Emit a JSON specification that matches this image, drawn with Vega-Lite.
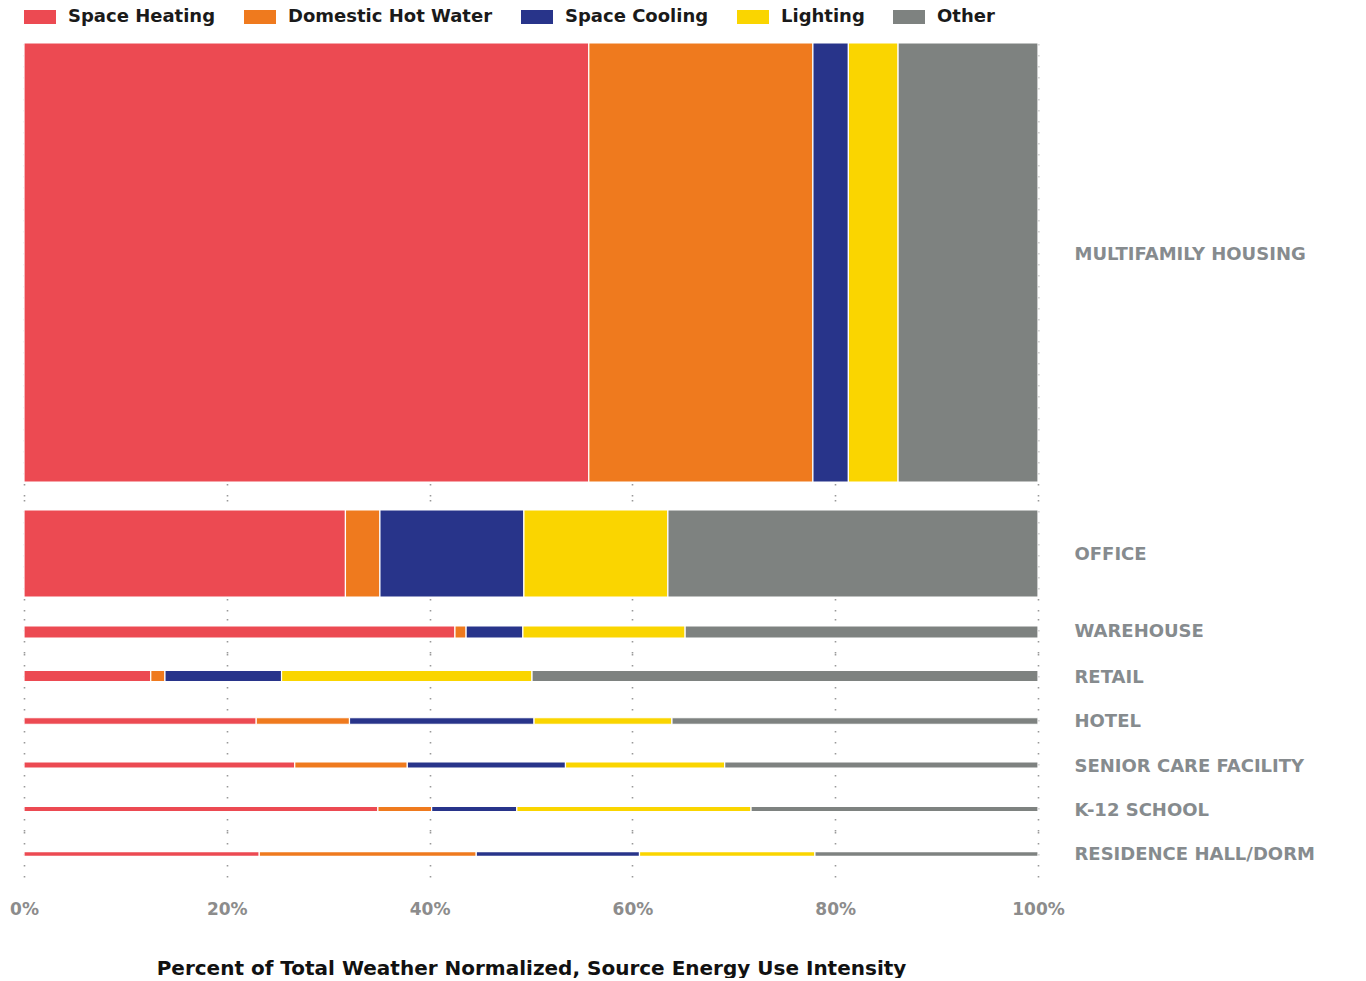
{
  "$schema": "https://vega.github.io/schema/vega-lite/v6.json",
  "padding": {"left": 9, "top": 1, "right": 0, "bottom": 0},
  "spacing": 0,
  "data": {"values": [
    {"building": "MULTIFAMILY HOUSING", "category": "Space Heating", "pct": 55.7, "weight": 439},
    {"building": "MULTIFAMILY HOUSING", "category": "Domestic Hot Water", "pct": 22.1, "weight": 439},
    {"building": "MULTIFAMILY HOUSING", "category": "Space Cooling", "pct": 3.5, "weight": 439},
    {"building": "MULTIFAMILY HOUSING", "category": "Lighting", "pct": 4.9, "weight": 439},
    {"building": "MULTIFAMILY HOUSING", "category": "Other", "pct": 13.8, "weight": 439},
    {"building": "OFFICE", "category": "Space Heating", "pct": 31.7, "weight": 87},
    {"building": "OFFICE", "category": "Domestic Hot Water", "pct": 3.4, "weight": 87},
    {"building": "OFFICE", "category": "Space Cooling", "pct": 14.2, "weight": 87},
    {"building": "OFFICE", "category": "Lighting", "pct": 14.2, "weight": 87},
    {"building": "OFFICE", "category": "Other", "pct": 36.5, "weight": 87},
    {"building": "WAREHOUSE", "category": "Space Heating", "pct": 42.5, "weight": 12},
    {"building": "WAREHOUSE", "category": "Domestic Hot Water", "pct": 1.1, "weight": 12},
    {"building": "WAREHOUSE", "category": "Space Cooling", "pct": 5.6, "weight": 12},
    {"building": "WAREHOUSE", "category": "Lighting", "pct": 16.0, "weight": 12},
    {"building": "WAREHOUSE", "category": "Other", "pct": 34.8, "weight": 12},
    {"building": "RETAIL", "category": "Space Heating", "pct": 12.5, "weight": 11},
    {"building": "RETAIL", "category": "Domestic Hot Water", "pct": 1.4, "weight": 11},
    {"building": "RETAIL", "category": "Space Cooling", "pct": 11.5, "weight": 11},
    {"building": "RETAIL", "category": "Lighting", "pct": 24.7, "weight": 11},
    {"building": "RETAIL", "category": "Other", "pct": 49.9, "weight": 11},
    {"building": "HOTEL", "category": "Space Heating", "pct": 22.9, "weight": 6.5},
    {"building": "HOTEL", "category": "Domestic Hot Water", "pct": 9.2, "weight": 6.5},
    {"building": "HOTEL", "category": "Space Cooling", "pct": 18.2, "weight": 6.5},
    {"building": "HOTEL", "category": "Lighting", "pct": 13.6, "weight": 6.5},
    {"building": "HOTEL", "category": "Other", "pct": 36.1, "weight": 6.5},
    {"building": "SENIOR CARE FACILITY", "category": "Space Heating", "pct": 26.7, "weight": 6},
    {"building": "SENIOR CARE FACILITY", "category": "Domestic Hot Water", "pct": 11.1, "weight": 6},
    {"building": "SENIOR CARE FACILITY", "category": "Space Cooling", "pct": 15.6, "weight": 6},
    {"building": "SENIOR CARE FACILITY", "category": "Lighting", "pct": 15.7, "weight": 6},
    {"building": "SENIOR CARE FACILITY", "category": "Other", "pct": 30.9, "weight": 6},
    {"building": "K-12 SCHOOL", "category": "Space Heating", "pct": 34.9, "weight": 5},
    {"building": "K-12 SCHOOL", "category": "Domestic Hot Water", "pct": 5.3, "weight": 5},
    {"building": "K-12 SCHOOL", "category": "Space Cooling", "pct": 8.4, "weight": 5},
    {"building": "K-12 SCHOOL", "category": "Lighting", "pct": 23.1, "weight": 5},
    {"building": "K-12 SCHOOL", "category": "Other", "pct": 28.3, "weight": 5},
    {"building": "RESIDENCE HALL/DORM", "category": "Space Heating", "pct": 23.2, "weight": 4.7},
    {"building": "RESIDENCE HALL/DORM", "category": "Domestic Hot Water", "pct": 21.4, "weight": 4.7},
    {"building": "RESIDENCE HALL/DORM", "category": "Space Cooling", "pct": 16.1, "weight": 4.7},
    {"building": "RESIDENCE HALL/DORM", "category": "Lighting", "pct": 17.3, "weight": 4.7},
    {"building": "RESIDENCE HALL/DORM", "category": "Other", "pct": 22.0, "weight": 4.7}
  ]},
  "vconcat": [
    {"height": 453, "width": 1014, "transform": [{"filter": "datum.building === 'MULTIFAMILY HOUSING'"}, {"window": [{"op": "row_number", "as": "seq"}]}],
     "mark": {"type": "bar", "stroke": "#ffffff", "strokeWidth": 1.2, "yOffset": -7},
     "encoding": {
       "x": {"field": "pct", "type": "quantitative", "stack": "zero", "scale": {"domain": [0, 100], "nice": false}, "axis": {"values": [0, 20, 40, 60, 80, 100], "labels": false, "ticks": false, "domain": false, "title": null, "grid": true}},
       "y": {"field": "building", "type": "nominal", "scale": {"paddingInner": 0, "paddingOuter": 0}, "axis": {"orient": "right", "title": null, "ticks": false, "domain": false, "labelPadding": 36, "labelOffset": -15, "grid": false}},
       "color": {"field": "category", "type": "nominal", "sort": ["Space Heating", "Domestic Hot Water", "Space Cooling", "Lighting", "Other"], "scale": {"domain": ["Space Heating", "Domestic Hot Water", "Space Cooling", "Lighting", "Other"], "range": ["#EC4A52", "#EF7A1E", "#28348A", "#FAD500", "#7E8280"]}, "legend": {"orient": "top", "direction": "horizontal", "title": null, "offset": 16}},
       "order": {"field": "seq", "type": "quantitative"},
       "size": {"field": "weight", "type": "quantitative", "scale": {"domain": [0, 439], "range": [0, 439]}, "legend": null}
     }},
    {"height": 115, "width": 1014, "transform": [{"filter": "datum.building === 'OFFICE'"}, {"window": [{"op": "row_number", "as": "seq"}]}],
     "mark": {"type": "bar", "stroke": "#ffffff", "strokeWidth": 1.2},
     "encoding": {
       "x": {"field": "pct", "type": "quantitative", "stack": "zero", "scale": {"domain": [0, 100], "nice": false}, "axis": {"values": [0, 20, 40, 60, 80, 100], "labels": false, "ticks": false, "domain": false, "title": null, "grid": true}},
       "y": {"field": "building", "type": "nominal", "scale": {"paddingInner": 0, "paddingOuter": 0}, "axis": {"orient": "right", "title": null, "ticks": false, "domain": false, "labelPadding": 36, "labelOffset": 1, "grid": false}},
       "color": {"field": "category", "type": "nominal", "sort": ["Space Heating", "Domestic Hot Water", "Space Cooling", "Lighting", "Other"], "scale": {"domain": ["Space Heating", "Domestic Hot Water", "Space Cooling", "Lighting", "Other"], "range": ["#EC4A52", "#EF7A1E", "#28348A", "#FAD500", "#7E8280"]}, "legend": {"orient": "top", "direction": "horizontal", "title": null, "offset": 16}},
       "order": {"field": "seq", "type": "quantitative"},
       "size": {"field": "weight", "type": "quantitative", "scale": {"domain": [0, 439], "range": [0, 439]}, "legend": null}
     }},
    {"height": 42, "width": 1014, "transform": [{"filter": "datum.building === 'WAREHOUSE'"}, {"window": [{"op": "row_number", "as": "seq"}]}],
     "mark": {"type": "bar", "stroke": "#ffffff", "strokeWidth": 1.2},
     "encoding": {
       "x": {"field": "pct", "type": "quantitative", "stack": "zero", "scale": {"domain": [0, 100], "nice": false}, "axis": {"values": [0, 20, 40, 60, 80, 100], "labels": false, "ticks": false, "domain": false, "title": null, "grid": true}},
       "y": {"field": "building", "type": "nominal", "scale": {"paddingInner": 0, "paddingOuter": 0}, "axis": {"orient": "right", "title": null, "ticks": false, "domain": false, "labelPadding": 36, "grid": false}},
       "color": {"field": "category", "type": "nominal", "sort": ["Space Heating", "Domestic Hot Water", "Space Cooling", "Lighting", "Other"], "scale": {"domain": ["Space Heating", "Domestic Hot Water", "Space Cooling", "Lighting", "Other"], "range": ["#EC4A52", "#EF7A1E", "#28348A", "#FAD500", "#7E8280"]}, "legend": {"orient": "top", "direction": "horizontal", "title": null, "offset": 16}},
       "order": {"field": "seq", "type": "quantitative"},
       "size": {"field": "weight", "type": "quantitative", "scale": {"domain": [0, 439], "range": [0, 439]}, "legend": null}
     }},
    {"height": 46, "width": 1014, "transform": [{"filter": "datum.building === 'RETAIL'"}, {"window": [{"op": "row_number", "as": "seq"}]}],
     "mark": {"type": "bar", "stroke": "#ffffff", "strokeWidth": 1.2},
     "encoding": {
       "x": {"field": "pct", "type": "quantitative", "stack": "zero", "scale": {"domain": [0, 100], "nice": false}, "axis": {"values": [0, 20, 40, 60, 80, 100], "labels": false, "ticks": false, "domain": false, "title": null, "grid": true}},
       "y": {"field": "building", "type": "nominal", "scale": {"paddingInner": 0, "paddingOuter": 0}, "axis": {"orient": "right", "title": null, "ticks": false, "domain": false, "labelPadding": 36, "labelOffset": 2, "grid": false}},
       "color": {"field": "category", "type": "nominal", "sort": ["Space Heating", "Domestic Hot Water", "Space Cooling", "Lighting", "Other"], "scale": {"domain": ["Space Heating", "Domestic Hot Water", "Space Cooling", "Lighting", "Other"], "range": ["#EC4A52", "#EF7A1E", "#28348A", "#FAD500", "#7E8280"]}, "legend": {"orient": "top", "direction": "horizontal", "title": null, "offset": 16}},
       "order": {"field": "seq", "type": "quantitative"},
       "size": {"field": "weight", "type": "quantitative", "scale": {"domain": [0, 439], "range": [0, 439]}, "legend": null}
     }},
    {"height": 44, "width": 1014, "transform": [{"filter": "datum.building === 'HOTEL'"}, {"window": [{"op": "row_number", "as": "seq"}]}],
     "mark": {"type": "bar", "stroke": "#ffffff", "strokeWidth": 1.2},
     "encoding": {
       "x": {"field": "pct", "type": "quantitative", "stack": "zero", "scale": {"domain": [0, 100], "nice": false}, "axis": {"values": [0, 20, 40, 60, 80, 100], "labels": false, "ticks": false, "domain": false, "title": null, "grid": true}},
       "y": {"field": "building", "type": "nominal", "scale": {"paddingInner": 0, "paddingOuter": 0}, "axis": {"orient": "right", "title": null, "ticks": false, "domain": false, "labelPadding": 36, "labelOffset": 1, "grid": false}},
       "color": {"field": "category", "type": "nominal", "sort": ["Space Heating", "Domestic Hot Water", "Space Cooling", "Lighting", "Other"], "scale": {"domain": ["Space Heating", "Domestic Hot Water", "Space Cooling", "Lighting", "Other"], "range": ["#EC4A52", "#EF7A1E", "#28348A", "#FAD500", "#7E8280"]}, "legend": {"orient": "top", "direction": "horizontal", "title": null, "offset": 16}},
       "order": {"field": "seq", "type": "quantitative"},
       "size": {"field": "weight", "type": "quantitative", "scale": {"domain": [0, 439], "range": [0, 439]}, "legend": null}
     }},
    {"height": 44, "width": 1014, "transform": [{"filter": "datum.building === 'SENIOR CARE FACILITY'"}, {"window": [{"op": "row_number", "as": "seq"}]}],
     "mark": {"type": "bar", "stroke": "#ffffff", "strokeWidth": 1.2},
     "encoding": {
       "x": {"field": "pct", "type": "quantitative", "stack": "zero", "scale": {"domain": [0, 100], "nice": false}, "axis": {"values": [0, 20, 40, 60, 80, 100], "labels": false, "ticks": false, "domain": false, "title": null, "grid": true}},
       "y": {"field": "building", "type": "nominal", "scale": {"paddingInner": 0, "paddingOuter": 0}, "axis": {"orient": "right", "title": null, "ticks": false, "domain": false, "labelPadding": 36, "labelOffset": 2, "grid": false}},
       "color": {"field": "category", "type": "nominal", "sort": ["Space Heating", "Domestic Hot Water", "Space Cooling", "Lighting", "Other"], "scale": {"domain": ["Space Heating", "Domestic Hot Water", "Space Cooling", "Lighting", "Other"], "range": ["#EC4A52", "#EF7A1E", "#28348A", "#FAD500", "#7E8280"]}, "legend": {"orient": "top", "direction": "horizontal", "title": null, "offset": 16}},
       "order": {"field": "seq", "type": "quantitative"},
       "size": {"field": "weight", "type": "quantitative", "scale": {"domain": [0, 439], "range": [0, 439]}, "legend": null}
     }},
    {"height": 44, "width": 1014, "transform": [{"filter": "datum.building === 'K-12 SCHOOL'"}, {"window": [{"op": "row_number", "as": "seq"}]}],
     "mark": {"type": "bar", "stroke": "#ffffff", "strokeWidth": 1.2},
     "encoding": {
       "x": {"field": "pct", "type": "quantitative", "stack": "zero", "scale": {"domain": [0, 100], "nice": false}, "axis": {"values": [0, 20, 40, 60, 80, 100], "labels": false, "ticks": false, "domain": false, "title": null, "grid": true}},
       "y": {"field": "building", "type": "nominal", "scale": {"paddingInner": 0, "paddingOuter": 0}, "axis": {"orient": "right", "title": null, "ticks": false, "domain": false, "labelPadding": 36, "labelOffset": 2, "grid": false}},
       "color": {"field": "category", "type": "nominal", "sort": ["Space Heating", "Domestic Hot Water", "Space Cooling", "Lighting", "Other"], "scale": {"domain": ["Space Heating", "Domestic Hot Water", "Space Cooling", "Lighting", "Other"], "range": ["#EC4A52", "#EF7A1E", "#28348A", "#FAD500", "#7E8280"]}, "legend": {"orient": "top", "direction": "horizontal", "title": null, "offset": 16}},
       "order": {"field": "seq", "type": "quantitative"},
       "size": {"field": "weight", "type": "quantitative", "scale": {"domain": [0, 439], "range": [0, 439]}, "legend": null}
     }},
    {"height": 46, "width": 1014, "transform": [{"filter": "datum.building === 'RESIDENCE HALL/DORM'"}, {"window": [{"op": "row_number", "as": "seq"}]}],
     "mark": {"type": "bar", "stroke": "#ffffff", "strokeWidth": 1.2},
     "encoding": {
       "x": {"field": "pct", "type": "quantitative", "stack": "zero", "scale": {"domain": [0, 100], "nice": false}, "axis": {"values": [0, 20, 40, 60, 80, 100], "labelExpr": "datum.value + '%'", "labelColor": "#8c8c8c", "labelFontSize": 17, "labelPadding": 24, "labelFlush": false, "ticks": false, "domain": false, "grid": true, "title": "Percent of Total Weather Normalized, Source Energy Use Intensity", "titleFontSize": 20, "titleFontWeight": "bold", "titleColor": "#111111", "titlePadding": 41}},
       "y": {"field": "building", "type": "nominal", "scale": {"paddingInner": 0, "paddingOuter": 0}, "axis": {"orient": "right", "title": null, "ticks": false, "domain": false, "labelPadding": 36, "labelOffset": 1, "grid": false}},
       "color": {"field": "category", "type": "nominal", "sort": ["Space Heating", "Domestic Hot Water", "Space Cooling", "Lighting", "Other"], "scale": {"domain": ["Space Heating", "Domestic Hot Water", "Space Cooling", "Lighting", "Other"], "range": ["#EC4A52", "#EF7A1E", "#28348A", "#FAD500", "#7E8280"]}, "legend": {"orient": "top", "direction": "horizontal", "title": null, "offset": 16}},
       "order": {"field": "seq", "type": "quantitative"},
       "size": {"field": "weight", "type": "quantitative", "scale": {"domain": [0, 439], "range": [0, 439]}, "legend": null}
     }}
  ],
  "config": {
    "view": {"stroke": null},
    "font": "DejaVu Sans",
    "axis": {"labelFont": "DejaVu Sans", "labelFontWeight": "bold", "titleFont": "DejaVu Sans", "gridColor": "#999999", "gridDash": [1.6, 9.4], "gridWidth": 1.6},
    "axisY": {"labelFontSize": 18, "labelColor": "#868b8e", "labelAlign": "left", "labelLimit": 0},
    "legend": {"symbolType": "M-1,-0.4375H1V0.4375H-1Z", "symbolSize": 1024, "symbolStrokeWidth": 0, "labelFont": "DejaVu Sans", "labelFontSize": 18, "labelFontWeight": "bold", "labelColor": "#1a1a1a", "labelOffset": 12, "columnPadding": 28, "labelLimit": 0}
  }
}
